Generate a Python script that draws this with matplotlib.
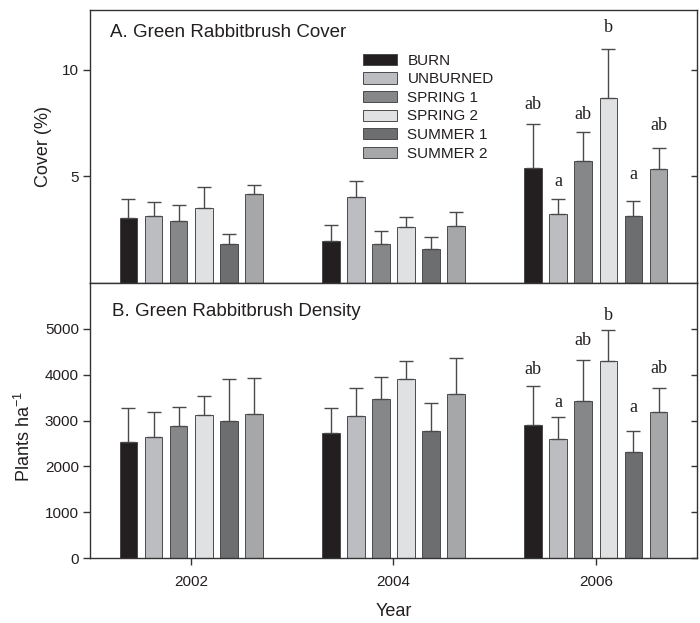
import matplotlib
matplotlib.use('Agg')
import matplotlib.pyplot as plt
import numpy as np
from matplotlib.patches import Patch

plt.rcParams['font.family'] = ['Liberation Sans', 'DejaVu Sans']

years = ['2002', '2004', '2006']
treatments = ['BURN', 'UNBURNED', 'SPRING 1', 'SPRING 2', 'SUMMER 1', 'SUMMER 2']
colors = ['#231f20', '#bcbdc0', '#868789', '#e0e1e2', '#6d6e70', '#a6a7a9']

# Cover (%) means and SE, per treatment across years
cover_mean = [
    [3.05, 1.98, 5.41],
    [3.14, 4.01, 3.25],
    [2.92, 1.82, 5.71],
    [3.52, 2.61, 8.69],
    [1.82, 1.60, 3.14],
    [4.18, 2.67, 5.33],
]
cover_se = [
    [0.91, 0.76, 2.03],
    [0.65, 0.77, 0.67],
    [0.74, 0.62, 1.35],
    [0.96, 0.49, 2.30],
    [0.46, 0.57, 0.70],
    [0.40, 0.65, 0.99],
]
# Density (plants/ha) means and SE
density_mean = [
    [2525, 2729, 2911],
    [2649, 3093, 2598],
    [2889, 3472, 3435],
    [3115, 3916, 4301],
    [2991, 2766, 2314],
    [3144, 3581, 3188],
]
density_se = [
    [750, 539, 844],
    [539, 626, 473],
    [415, 480, 881],
    [415, 393, 670],
    [910, 618, 466],
    [793, 793, 531],
]
# significance letters for 2006
letters_2006 = ['ab', 'a', 'ab', 'b', 'a', 'ab']
letter_y_cover = [8.36, 4.78, 7.92, 11.98, 5.11, 7.39]
letter_y_density = [4112, 3399, 4753, 5298, 3275, 4127]

txt = '#231f20'
edge = '#4a4a4c'
W, H = 700, 623
fig = plt.figure(figsize=(W / 100, H / 100), dpi=100)
L, R = 90 / W, 697 / W
axA = fig.add_axes([L, 1 - 283 / H, R - L, (283 - 10) / H])
axB = fig.add_axes([L, 1 - 558 / H, R - L, (558 - 283) / H])

x = np.arange(len(years))
pitch = 0.124
width = 0.087


def draw(ax, means, ses, ly):
    for i, (m, s, c) in enumerate(zip(means, ses, colors)):
        pos = x + (i - 2.5) * pitch
        ax.bar(pos, m, width=width, color=c, edgecolor=edge, linewidth=0.7, zorder=2)
        ax.errorbar(pos, m, yerr=[np.zeros(len(s)), s], fmt='none', ecolor=edge,
                    elinewidth=1.0, capsize=5, capthick=1.0, zorder=3)
        ax.text(pos[2], ly[i], letters_2006[i], ha='center', va='center',
                fontsize=13, family=['Liberation Serif', 'DejaVu Serif'], color=txt)
    ax.set_xlim(-0.5, 2.5)
    for sp in ax.spines.values():
        sp.set_color('#333333')
        sp.set_linewidth(1.0)
    ax.tick_params(axis='y', which='both', direction='out', length=5, width=1,
                   color='#333333', labelsize=11, labelcolor=txt, pad=3)
    ax.tick_params(axis='y', right=True, labelright=False)


draw(axA, cover_mean, cover_se, letter_y_cover)
draw(axB, density_mean, density_se, letter_y_density)

# right-side inward ticks
for ax in (axA, axB):
    for t in ax.yaxis.get_major_ticks():
        t.tick2line.set_marker(matplotlib.markers.TICKLEFT)
        t.tick2line.set_markersize(4)

axA.set_ylim(0, 12.8)
axA.set_yticks([5, 10])
axA.set_xticks([])
axA.set_ylabel('Cover (%)', fontsize=13, color=txt)
axA.yaxis.set_label_coords(-0.063, 0.5)

axB.set_ylim(0, 6000)
axB.set_yticks(range(0, 6000, 1000))
axB.set_xticks(x)
axB.set_xticklabels(years)
axB.tick_params(axis='x', direction='out', length=5, width=1, color='#333333',
                labelsize=11, labelcolor=txt, pad=7)
axB.set_ylabel('Plants ha$^{\\mathregular{-1}}$', fontsize=13, color=txt)
axB.yaxis.set_label_coords(-0.092, 0.44)
axB.set_xlabel('Year', fontsize=13, color=txt, labelpad=10)

axA.text(0.033, 0.916, 'A. Green Rabbitbrush Cover', transform=axA.transAxes,
         fontsize=13.5, va='center', ha='left', color=txt)
axB.text(0.036, 0.898, 'B. Green Rabbitbrush Density', transform=axB.transAxes,
         fontsize=13.5, va='center', ha='left', color=txt)

handles = [Patch(facecolor=c, edgecolor=edge, linewidth=0.7) for c in colors]
leg = axA.legend(handles, treatments, loc='upper left', bbox_to_anchor=(0.45, 0.84),
                 frameon=False, fontsize=11, handlelength=2.2, handleheight=0.75,
                 handletextpad=0.7, labelspacing=0.3, borderpad=0, borderaxespad=0)
for t in leg.get_texts():
    t.set_color(txt)

fig.savefig('out.png', dpi=100)
